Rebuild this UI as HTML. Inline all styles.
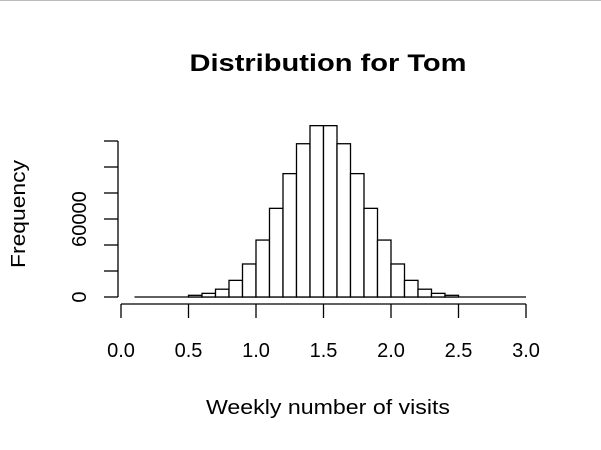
<!DOCTYPE html>
<html><head><meta charset="utf-8"><style>
html,body{margin:0;padding:0;background:#fff;}
svg{display:block;font-family:"Liberation Sans",Arial,sans-serif;}
</style></head><body>
<svg id="chart" width="601" height="450">
<line x1="0" y1="0.5" x2="601" y2="0.5" stroke="#bbb"/>
<text x="328" y="71" text-anchor="middle" font-weight="bold" font-size="24" textLength="277" lengthAdjust="spacingAndGlyphs">Distribution for Tom</text>
<text x="328" y="414" text-anchor="middle" font-size="20" textLength="244" lengthAdjust="spacingAndGlyphs">Weekly number of visits</text>
<text transform="translate(25,214) rotate(-90)" text-anchor="middle" font-size="20" textLength="108" lengthAdjust="spacingAndGlyphs">Frequency</text>
<g id="bars"></g><g id="axes"></g>
</svg>
<script>
const binEdges=[0.1,0.2,0.3,0.4,0.5,0.6,0.7,0.8,0.9,1.0,1.1,1.2,1.3,1.4,1.5,1.6,1.7,1.8,1.9,2.0,2.1,2.2,2.3,2.4,2.5,2.6,2.7,2.8,2.9,3.0];
const counts=[0,0,0,0,1300,2800,6000,12800,25400,43800,68200,94900,117900,131800,131800,117900,94900,68200,43800,25400,12800,6000,2800,1300,0,0,0,0,0];
const xTicks=[0,0.5,1,1.5,2,2.5,3];
const xTickLabels=["0.0","0.5","1.0","1.5","2.0","2.5","3.0"];
const yTicks=[0,20000,40000,60000,80000,100000,120000];
const yTickLabels={0:"0",60000:"60000"};
const NS="http://www.w3.org/2000/svg";
const xs=v=>121+v*135;
const ys=v=>297-v*26/20000;
function mk(tag,attrs,parent){const e=document.createElementNS(NS,tag);for(const k in attrs)e.setAttribute(k,attrs[k]);parent.appendChild(e);return e;}
const bars=document.getElementById('bars'),axes=document.getElementById('axes');
const base=mk('line',{x1:xs(binEdges[0]),x2:xs(binEdges[binEdges.length-1]),y1:ys(0),y2:ys(0),stroke:'#000','stroke-width':1.3},bars);


for(let i=0;i<counts.length;i++){
  if(counts[i]<=0) continue;
  const x0=xs(binEdges[i]),x1=xs(binEdges[i+1]),y=ys(counts[i]);
  const r=mk('rect',{x:x0,y:y,width:x1-x0,height:ys(0)-y,fill:'#fff',stroke:'#000','stroke-width':1.3},bars);
  
  
}
const xl=mk('line',{x1:xs(0),x2:xs(3),y1:304,y2:304,stroke:'#000','stroke-width':1.3},axes);


xTicks.forEach((t,i)=>{
  const tk=mk('line',{x1:xs(t),x2:xs(t),y1:304,y2:318,stroke:'#000','stroke-width':1.3},axes);
  
  
  const tx=mk('text',{x:xs(t),y:357,'text-anchor':'middle','font-size':20},axes);
  tx.textContent=xTickLabels[i];
  
  
});
const yl=mk('line',{x1:118,x2:118,y1:ys(0),y2:ys(120000),stroke:'#000','stroke-width':1.3},axes);


yTicks.forEach(t=>{
  const tk=mk('line',{x1:104,x2:118,y1:ys(t),y2:ys(t),stroke:'#000','stroke-width':1.3},axes);
  
  
  if(yTickLabels[t]!==undefined){
    const tx=mk('text',{transform:`translate(86,${ys(t)}) rotate(-90)`,'text-anchor':'middle','font-size':20},axes);
    tx.textContent=yTickLabels[t];
    
    
  }
});
</script>
</body></html>
